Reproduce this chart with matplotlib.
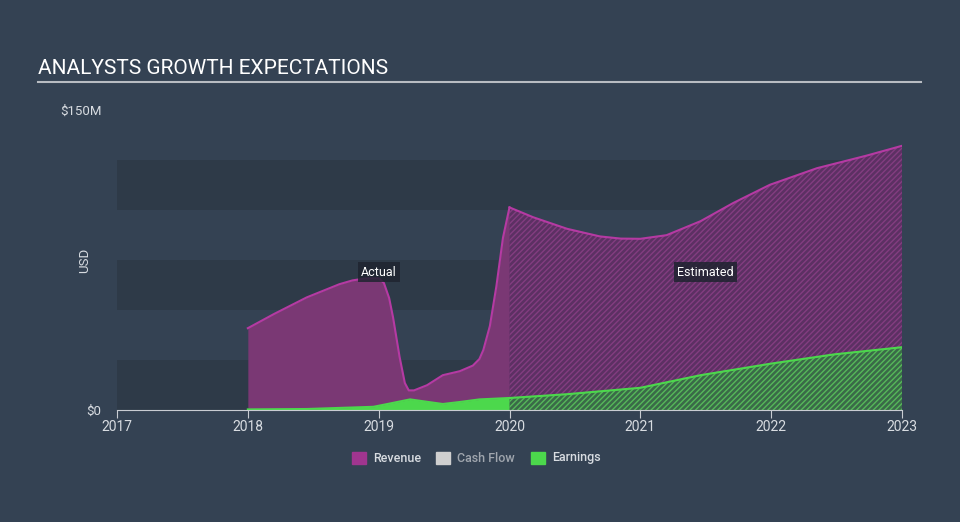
import matplotlib.pyplot as plt
from matplotlib.patches import Rectangle

# values (USD millions)
actual_years = [2018.0, 2018.2, 2018.45, 2018.7, 2018.8, 2018.9, 2019.0, 2019.04, 2019.08, 2019.11,
                2019.16, 2019.2, 2019.23, 2019.27, 2019.37, 2019.49, 2019.62, 2019.72, 2019.77,
                2019.8, 2019.85, 2019.9, 2019.95, 2020.0]
actual_revenue = [40.9, 48.0, 56.3, 62.9, 64.8, 65.8, 65.9, 63.5, 56.0, 46.3,
                  26.5, 13.5, 9.8, 9.8, 12.4, 17.4, 19.4, 22.2, 25.5,
                  30.0, 42.0, 62.0, 86.1, 101.3]
actual_earn_years = [2018.0, 2018.45, 2018.96, 2019.09, 2019.24, 2019.37, 2019.49, 2019.62,
                     2019.77, 2020.0]
actual_earnings = [0.3, 0.5, 1.6, 3.3, 5.3, 4.1, 3.0, 4.0, 5.3, 6.0]

est_years = [2020.0, 2020.18, 2020.44, 2020.69, 2020.85, 2021.0, 2021.2, 2021.46, 2021.71,
             2021.99, 2022.35, 2022.73, 2023.0]
est_revenue = [101.3, 96.4, 90.6, 86.8, 85.7, 85.6, 87.4, 94.4, 103.5, 112.6, 120.9, 127.2, 132.1]
est_earn_years = [2020.0, 2020.44, 2021.0, 2021.46, 2022.0, 2022.48, 2023.0]
est_earnings = [6.0, 7.9, 11.1, 17.4, 23.2, 27.8, 31.4]

year_ticks = [2017, 2018, 2019, 2020, 2021, 2022, 2023]
legend_names = ['Revenue', 'Cash Flow', 'Earnings']

bg = '#344253'
band = '#2e3a48'
rev_line = '#b53aa3'
rev_fill = '#7a3874'
earn_col = '#4cd84c'
txt = '#d8dce1'

plt.rcParams['font.family'] = ['Roboto', 'DejaVu Sans']
plt.rcParams['hatch.linewidth'] = 1.0

fig = plt.figure(figsize=(9.6, 5.22), dpi=100, facecolor=bg)
ax = fig.add_axes([117 / 960, 1 - 410 / 522, (902 - 117) / 960, 300 / 522])
ax.set_facecolor(bg)
ax.set_xlim(2017, 2023)
ax.set_ylim(0, 150)

# stripes in the background
for lo in [0, 50, 100]:
    ax.axhspan(lo, lo + 25, color=band, lw=0, zorder=0)

# actual part
ax.fill_between(actual_years, 0, actual_revenue, color=rev_fill, lw=0, zorder=2)
ax.plot(actual_years, actual_revenue, color=rev_line, lw=1.5, zorder=4, solid_joinstyle='round')
ax.fill_between(actual_earn_years, 0, actual_earnings, color=earn_col, lw=0, zorder=3)
ax.plot(actual_earn_years, actual_earnings, color=earn_col, lw=1.5, zorder=4)

# estimated part, hatched
ax.fill_between(est_years, 0, est_revenue, facecolor='#5c3063', edgecolor='#833d80',
                hatch='//////', lw=0, zorder=2)
ax.plot(est_years, est_revenue, color=rev_line, lw=1.5, zorder=4, solid_joinstyle='round')
ax.fill_between(est_earn_years, 0, est_earnings, facecolor='#3a6a48', edgecolor='#56b85a',
                hatch='//////', lw=0, zorder=3)
ax.plot(est_earn_years, est_earnings, color=earn_col, lw=1.5, zorder=4)

ax.text(2019.0, 69, 'Actual', color='white', fontsize=9, ha='center', va='center', zorder=6,
        bbox=dict(boxstyle='square,pad=0.25', fc='#1f2430', ec='none', alpha=0.85))
ax.text(2021.5, 69, 'Estimated', color='white', fontsize=9, ha='center', va='center', zorder=6,
        bbox=dict(boxstyle='square,pad=0.25', fc='#1f2430', ec='none', alpha=0.85))

for s in ['top', 'right', 'left']:
    ax.spines[s].set_visible(False)
ax.spines['bottom'].set_color('#c8ccd2')
ax.spines['bottom'].set_zorder(5)
ax.set_xticks(year_ticks)
ax.set_xticklabels([str(y) for y in year_ticks])
ax.tick_params(axis='x', colors='#c8ccd2', labelcolor=txt, labelsize=10, length=6, pad=1)
ax.set_yticks([0, 150])
ax.set_yticklabels(['$0', '$150M'])
ax.tick_params(axis='y', length=0, labelcolor=txt, labelsize=9.5, pad=11)
ax.set_ylabel('USD', color=txt, fontsize=9.5)
ax.yaxis.set_label_coords(-26 / 785, 0.5)

fig.text(38 / 960, 1 - 69 / 522, 'ANALYSTS GROWTH EXPECTATIONS', color='white', fontsize=15,
         ha='left', va='center')
fig.add_artist(plt.Line2D([38 / 960, 921 / 960], [1 - 82 / 522, 1 - 82 / 522],
                          color='#b8bcc2', lw=1.5))

# legend
leg_cols = ['#a0358f', '#cfcfcf', earn_col]
leg_x = [352, 436, 531]
leg_txt = [txt, '#a0a6ae', txt]
for name, col, x, tc in zip(legend_names, leg_cols, leg_x, leg_txt):
    fig.add_artist(Rectangle((x / 960, 1 - 464 / 522), 14 / 960, 12 / 522, color=col,
                             transform=fig.transFigure))
    fig.text((x + 21) / 960, 1 - 458 / 522, name, color=tc, fontsize=9, ha='left', va='center',
             fontweight='medium')

fig.savefig('out.png', dpi=100, facecolor=bg)
